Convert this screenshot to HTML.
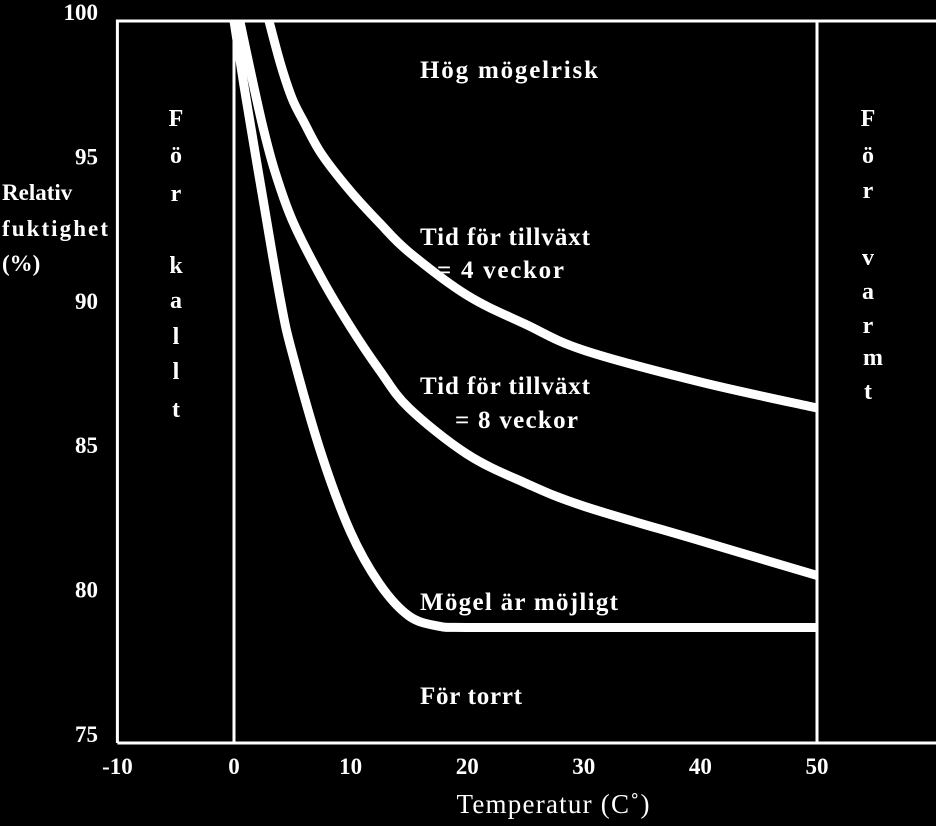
<!DOCTYPE html>
<html><head><meta charset="utf-8"><style>
html,body{margin:0;padding:0;background:#000;}
svg text{font-family:"Liberation Serif",serif;fill:#fff;}
.b{font-weight:bold;}
</style></head><body>
<svg width="936" height="821" viewBox="0 0 936 821" id="chart">
<rect x="0" y="0" width="936" height="821" fill="#000"/>
<g id="frame"></g>
<g id="curves"></g>
<g id="ticks"></g>
<text class="b" x="420" y="78" font-size="25" textLength="178">Hög mögelrisk</text>
<text class="b" x="420" y="245" font-size="25" textLength="170">Tid för tillväxt</text>
<text class="b" x="437" y="278" font-size="25" textLength="127">= 4 veckor</text>
<text class="b" x="420" y="394" font-size="25" textLength="170">Tid för tillväxt</text>
<text class="b" x="455" y="428" font-size="25" textLength="123">= 8 veckor</text>
<text class="b" x="420" y="610" font-size="25" textLength="198">Mögel är möjligt</text>
<text class="b" x="420" y="704" font-size="25" textLength="102">För torrt</text>
<text class="b" x="2" y="200" font-size="23">Relativ</text>
<text class="b" x="2" y="236" font-size="23" textLength="106">fuktighet</text>
<text class="b" x="2" y="271" font-size="23">(%)</text>
<text x="553" y="813" font-size="27" text-anchor="middle" textLength="193">Temperatur (C˚)</text>
<g id="vtext"></g>
</svg>
<script>
const xTicks=[-10,0,10,20,30,40,50];
const yTicks=[75,80,85,90,95,100];
const tempsA=[3,4,5,6,7.5,10,12.5,15,20,25,30,40,50];
const rhA=[100,98.5,97.3,96.5,95.4,94.1,93,92,90.5,89.5,88.6,87.5,86.6];
const tempsB=[0.5,1.5,2.5,3.5,5,7.5,10,12.5,15,20,25,30,40,50];
const rhB=[100,98.1,96.3,94.8,93.1,91.1,89.4,87.9,86.6,85.0,84.0,83.2,82.0,80.8];
const tempsC=[0,1,2.5,4,5,7.5,10,12.5,15,17.5,20,30,40,50];
const rhC=[100,97.4,93.8,90.3,88.5,85.0,82.3,80.5,79.4,79.05,79.0,79.0,79.0,79.0];
const NS='http://www.w3.org/2000/svg';
const X=t=>234+(t)*11.66;
const Y=v=>21+(100-v)*28.88;
function mk(tag,attrs,parent){const e=document.createElementNS(NS,tag);for(const k in attrs)e.setAttribute(k,attrs[k]);parent.appendChild(e);return e;}
const frame=document.getElementById('frame');
let e;
e=mk('path',{d:`M${X(-10)},${Y(75)} V${Y(100)} H940 M${X(-10)},${Y(75)} H940`,stroke:'#fff','stroke-width':3,fill:'none'},frame);


e=mk('line',{x1:X(0),x2:X(0),y1:Y(100),y2:Y(75),stroke:'#fff','stroke-width':3},frame);


e=mk('line',{x1:X(50),x2:X(50),y1:Y(100),y2:Y(75),stroke:'#fff','stroke-width':3},frame);


const ticks=document.getElementById('ticks');
xTicks.forEach(t=>{const el=mk('text',{x:X(t),y:774,'font-size':23,'text-anchor':'middle','class':'b'},ticks);el.textContent=t;

});
yTicks.forEach(v=>{const el=mk('text',{x:98,y:Y(v)-1,'font-size':23,'text-anchor':'end','class':'b'},ticks);el.textContent=v;

});
function smooth(ts,vs){const p=ts.map((t,i)=>[X(t),Y(vs[i])]);let d=`M${p[0][0]},${p[0][1]}`;
for(let i=0;i<p.length-1;i++){const p0=p[i-1]||p[i],p1=p[i],p2=p[i+1],p3=p[i+2]||p2;
d+=` C${p1[0]+(p2[0]-p0[0])/6},${p1[1]+(p2[1]-p0[1])/6} ${p2[0]-(p3[0]-p1[0])/6},${p2[1]-(p3[1]-p1[1])/6} ${p2[0]},${p2[1]}`;}return d;}
const cv=document.getElementById('curves');
e=mk('path',{d:smooth(tempsA,rhA),stroke:'#fff','stroke-width':9,fill:'none','stroke-linejoin':'round'},cv);


e=mk('path',{d:smooth(tempsB,rhB),stroke:'#fff','stroke-width':9,fill:'none','stroke-linejoin':'round'},cv);


e=mk('path',{d:smooth(tempsC,rhC),stroke:'#fff','stroke-width':9,fill:'none','stroke-linejoin':'round'},cv);


const vt=document.getElementById('vtext');
const left=[['F',126],['ö',163],['r',201],['k',273],['a',308],['l',344],['l',379],['t',417]];
const right=[['F',126],['ö',163],['r',198],['v',265],['a',299],['r',333],['m',365],['t',399]];
left.forEach(([c,y])=>{const el=mk('text',{x:176,y:y,'font-size':24,'text-anchor':'middle','class':'b'},vt);el.textContent=c;

});
right.forEach(([c,y])=>{const el=mk('text',{x:c==='m'?873:868,y:y,'font-size':24,'text-anchor':'middle','class':'b'},vt);el.textContent=c;

});
</script>
</body></html>
